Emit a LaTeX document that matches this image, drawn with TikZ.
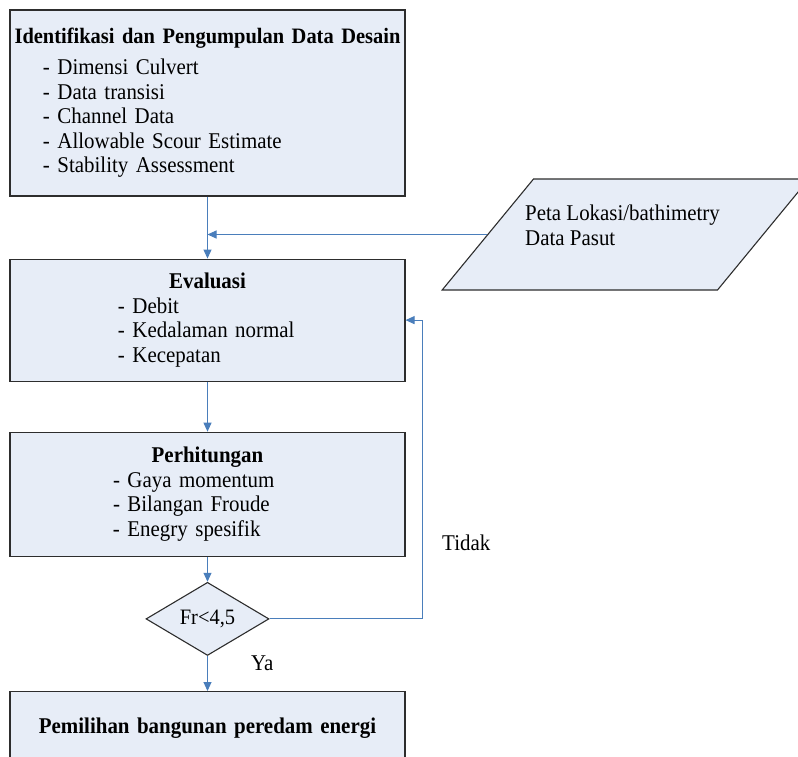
\documentclass[tikz,border=0pt]{standalone}
\usepackage{fontspec}
\setmainfont{Liberation Serif}[FakeStretch=0.93]
\usetikzlibrary{positioning,shapes,arrows.meta,calc}
\definecolor{boxblue}{RGB}{231,237,247}
\definecolor{flowblue}{RGB}{74,126,187}
\definecolor{edgegray}{RGB}{45,45,45}

\tikzset{
  stage/.style={rectangle, draw=edgegray, line width=1.1pt, fill=boxblue, minimum width=395pt, text width=395pt, inner xsep=0pt, inner ysep=0pt, align=left, font=\fontsize{22.5}{24.5}\selectfont},
  decision/.style={diamond, draw=edgegray, line width=1.1pt, fill=boxblue, minimum width=123pt, minimum height=73pt, inner sep=0pt, font=\fontsize{22}{24.5}\selectfont},
  inputdata/.style={trapezium, trapezium left angle=63.6, trapezium right angle=116.4, trapezium stretches=true, draw=edgegray, line width=1.1pt, fill=boxblue, minimum width=367pt, minimum height=111pt},
  flow/.style={draw=flowblue, line width=1pt, -{Triangle[length=9pt,width=8pt]}},
  label/.style={inner sep=0pt, font=\fontsize{22.5}{24.5}\selectfont},
}

\begin{document}
\begin{tikzpicture}[x=1pt, y=-1pt]
  \useasboundingbox (0,0) rectangle (798,756);

  \node[stage, minimum height=186pt] (ident) at (207.5,103) {
    \makebox[\hsize][c]{\fontsize{22}{24.5}\selectfont\textbf{Identifikasi dan Pengumpulan Data Desain}}\\[6.5pt]
    \hspace*{33pt}- Dimensi Culvert\\
    \hspace*{33pt}- Data transisi\\
    \hspace*{33pt}- Channel Data\\
    \hspace*{33pt}- Allowable Scour Estimate\\
    \hspace*{33pt}- Stability Assessment
  };

  \node[stage, minimum height=122pt, below=62pt of ident] (evaluasi) {
    \makebox[\hsize][c]{\textbf{Evaluasi}}\\
    \hspace*{108pt}- Debit\\
    \hspace*{108pt}- Kedalaman normal\\
    \hspace*{108pt}- Kecepatan
  };

  \node[stage, minimum height=124pt, below=50pt of evaluasi] (hitung) {
    \makebox[\hsize][c]{\textbf{Perhitungan}}\\
    \hspace*{103pt}- Gaya momentum\\
    \hspace*{103pt}- Bilangan Froude\\
    \hspace*{103pt}- Enegry spesifik
  };

  \node[decision, below=25pt of hitung] (cek) {Fr<4,5};

  \node[stage, align=center, minimum height=73pt, below=35pt of cek] (pilih) {
    \textbf{Pemilihan bangunan peredam energi}
  };

  \node[inputdata] (peta) at (625.5,234.5) {};
  \node[label, align=left, anchor=north west] (petatext) at (525,205) {Peta Lokasi/bathimetry\\Data Pasut};

  \node[label, anchor=base west] (tidak) at (442,550) {Tidak};
  \node[label, anchor=base west] (ya) at (251,670.5) {Ya};

  % alur utama
  \draw[flow] (ident) -- (evaluasi);
  \draw[flow] (peta.west) -- (peta.west -| ident.south);
  \draw[flow] (evaluasi) -- (hitung);
  \draw[flow] (hitung) -- (cek);
  \draw[flow] (cek) -- (pilih);
  \draw[flow] (cek.east) -| ($(evaluasi.east)+(17,0)$) -- (evaluasi.east);
\end{tikzpicture}
\end{document}
